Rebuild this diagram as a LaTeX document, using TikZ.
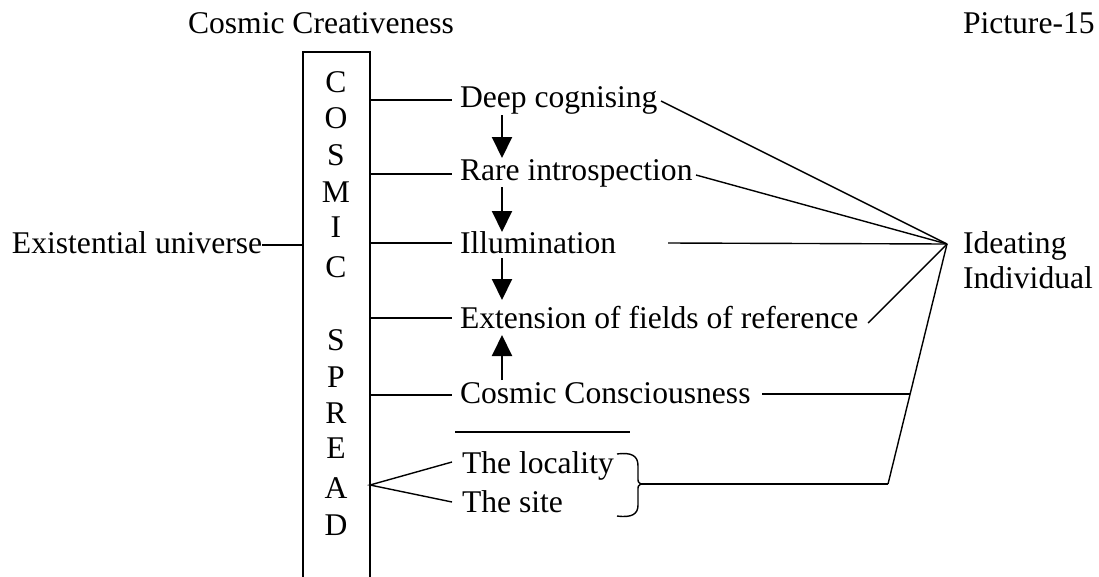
\documentclass[tikz,border=0pt]{standalone}
\usepackage{fontspec}
\setmainfont{Liberation Serif}
\usetikzlibrary{arrows.meta}
\begin{document}
\begin{tikzpicture}[x=1pt,y=-1pt,
  every node/.style={inner sep=0pt,outer sep=0pt,font=\fontsize{31.6}{36}\selectfont},
  lbl/.style={anchor=base west},
  letter/.style={anchor=base},
  link/.style={line width=1.4pt},
  flow/.style={line width=2pt,-{Triangle[width=20pt,length=21pt]}}]
\useasboundingbox (0,0) rectangle (1099,576);

% titles
\node[lbl] (title) at (188,33) {Cosmic Creativeness};
\node[lbl] (picno) at (963,33) {Picture-15};

% the vertical box and its letters
\draw[line width=2pt] (303,590) -- (303,52) -- (370,52) -- (370,590);
\coordinate (boxW) at (303,245);
\foreach \ch/\yy in {C/92,O/128,S/165,M/202,I/237,C/277,S/350,P/387,R/423,E/458,A/498,D/535}
  \node[letter] at (336,\yy) {\ch};

% left label
\node[lbl] (exist) at (12,253) {Existential universe};
\draw[link] (262,245) -- (boxW);

% stages
\node[lbl] (deep)  at (460,107) {Deep cognising};
\node[lbl] (rare)  at (460,180) {Rare introspection};
\node[lbl] (illum) at (460,253) {Illumination};
\node[lbl] (ext)   at (460,328) {Extension of fields of reference};
\node[lbl] (cons)  at (460,403) {Cosmic Consciousness};
\node[lbl] (loc)   at (462,473) {The locality};
\node[lbl] (site)  at (462,512) {The site};
\node[lbl] (ideat) at (963,253) {Ideating};
\node[lbl] (indiv) at (963,288) {Individual};

% links from the box to the stages
\foreach \yy in {100,174,243,318,395}
  \draw[link] (370,\yy) -- (452,\yy);
\coordinate (spread) at (370,485);
\draw[link] (452,462) -- (spread) -- (452,502);

% separator
\draw[link] (455,432) -- (630,432);

% vertical flow arrows
\draw[flow] (502,115) -- (502,158);
\draw[flow] (502,187) -- (502,232);
\draw[flow] (502,258) -- (502,300);
\draw[flow] (502,380) -- (502,335);

% brace
\draw[link] (617,454) .. controls (632,452) and (638,456) .. (638,466)
  -- (638,478) .. controls (638,482) .. (641,484)
  .. controls (638,486) .. (638,490) -- (638,505)
  .. controls (638,514) and (632,518) .. (617,516);

% convergence on the ideating individual
\coordinate (focus) at (947,244);
\coordinate (foot) at (888,484);
\coordinate (knee) at (910,394);
\draw[link] (661,101) -- (focus);
\draw[link] (696,175) -- (focus);
\draw[link] (668,243) -- (focus);
\draw[link] (868,323) -- (focus);
\draw[link] (focus) -- (foot);
\draw[link] (762,394) -- (knee);
\draw[link] (641,484) -- (foot);
\end{tikzpicture}
\end{document}
